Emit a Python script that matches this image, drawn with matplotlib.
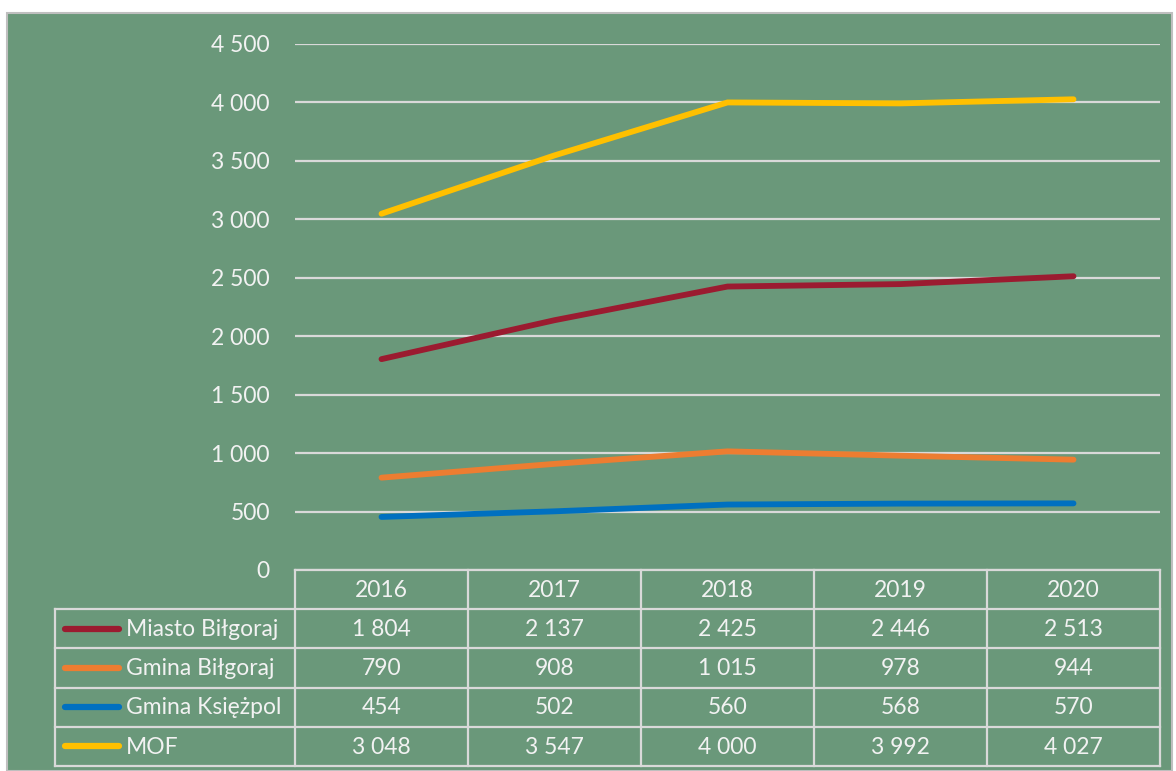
import matplotlib.pyplot as plt
from matplotlib.patches import Rectangle

lata = ['2016', '2017', '2018', '2019', '2020']
serie = ['Miasto Biłgoraj', 'Gmina Biłgoraj', 'Gmina Księżpol', 'MOF']
miasto_bilgoraj = [1804, 2137, 2425, 2446, 2513]
gmina_bilgoraj = [790, 908, 1015, 978, 944]
gmina_ksiezpol = [454, 502, 560, 568, 570]
mof = [3048, 3547, 4000, 3992, 4027]
wartosci = [miasto_bilgoraj, gmina_bilgoraj, gmina_ksiezpol, mof]
kolory = ['#9B1B30', '#ED7D31', '#0070C0', '#FFC000']

def fmt(v):
    return f'{v:,}'.replace(',', ' ')

plt.rcParams['font.family'] = ['Lato', 'DejaVu Sans']
W, H = 1176, 771
tlo = '#6A987A'
jasny = '#F2F2F2'
siatka = '#D9D9D9'
fs = 16.5

fig = plt.figure(figsize=(W / 100, H / 100), dpi=100, facecolor='white')
fig.add_artist(Rectangle((7 / W, 0), 1165 / W, 1 - 13 / H, transform=fig.transFigure,
                         facecolor=tlo, edgecolor='#BFBFBF', linewidth=1.5, zorder=-10))

# wykres
x0, x1, ytop, ybot = 295, 1160, 44, 570
ax = fig.add_axes([x0 / W, 1 - ybot / H, (x1 - x0) / W, (ybot - ytop) / H])
ax.patch.set_alpha(0)
pos = list(range(len(lata)))
for vals, c in zip(wartosci, kolory):
    ax.plot(pos, vals, color=c, linewidth=4.2, solid_capstyle='round', zorder=3)
ax.set_xlim(-0.5, len(lata) - 0.5)
ax.set_ylim(0, 4500)
ax.set_yticks(range(0, 4501, 500))
ax.set_yticklabels([fmt(v) for v in range(0, 4501, 500)])
ax.tick_params(axis='y', length=0, pad=18, labelsize=fs, labelcolor=jasny)
ax.set_xticks([])
for s in ax.spines.values():
    s.set_visible(False)
ax.yaxis.grid(True, color=siatka, linewidth=1.6)
ax.set_axisbelow(True)

# tabela danych
tl, tb = 55, 766
unit = (x1 - x0) / len(lata)
left_units = (x0 - tl) / unit
tax = fig.add_axes([tl / W, 1 - tb / H, (x1 - tl) / W, (tb - ybot) / H])
tax.patch.set_alpha(0)
tax.set_xlim(-0.5 - left_units, len(lata) - 0.5)
tax.set_ylim(5, 0)
tax.axis('off')
lw = 1.6
xl = -0.5 - left_units
# linie poziome
tax.plot([-0.5, len(lata) - 0.5], [0, 0], color=siatka, lw=lw, clip_on=False)
for r in range(1, 6):
    tax.plot([xl, len(lata) - 0.5], [r, r], color=siatka, lw=lw, clip_on=False)
# linie pionowe
tax.plot([xl, xl], [1, 5], color=siatka, lw=lw, clip_on=False)
for k in range(len(lata) + 1):
    tax.plot([k - 0.5, k - 0.5], [0, 5], color=siatka, lw=lw, clip_on=False)
for i, rok in enumerate(lata):
    tax.text(i, 0.52, rok, ha='center', va='center', fontsize=fs, color=jasny)
for r, (nazwa, vals, c) in enumerate(zip(serie, wartosci, kolory), start=1):
    tax.plot([xl + 0.06, xl + 0.37], [r + 0.5, r + 0.5], color=c, lw=4.5,
             solid_capstyle='round', clip_on=False)
    tax.text(xl + 0.41, r + 0.52, nazwa, ha='left', va='center', fontsize=fs, color=jasny)
    for i, v in enumerate(vals):
        tax.text(i, r + 0.52, fmt(v), ha='center', va='center', fontsize=fs, color=jasny)

fig.savefig('out.png', dpi=100, facecolor='white')
